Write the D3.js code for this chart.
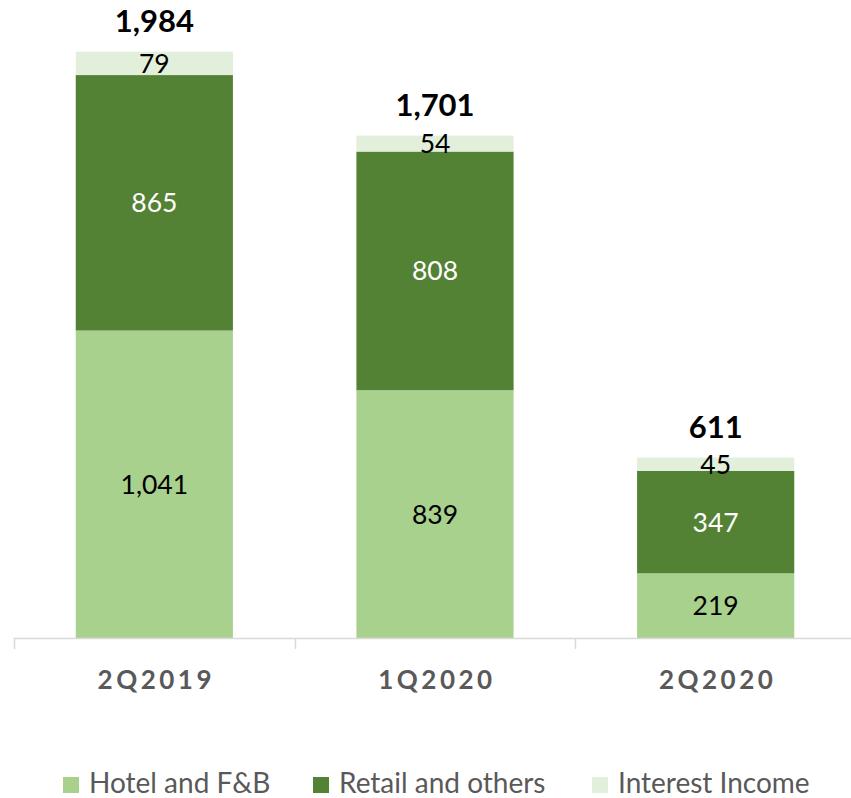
<!DOCTYPE html>
<html>
<head>
<meta charset="utf-8">
<script src="https://cdn.jsdelivr.net/npm/d3@7"></script>
<style>
  html, body { margin: 0; padding: 0; background: #fff; }
  svg { display: block; }
</style>
</head>
<body>
<svg id="chart" width="851" height="798"></svg>
<script>
// Revenue by segment, per quarter
const periods = ["2Q2019", "1Q2020", "2Q2020"];
const hotelFB = [1041, 839, 219];
const retailOthers = [865, 808, 347];
const interestIncome = [79, 54, 45];
const totals = [1984, 1701, 611];

const seriesNames = ["Hotel and F&B", "Retail and others", "Interest Income"];
const seriesKeys = ["hotel", "retail", "interest"];
const seriesColors = ["#A9D18E", "#548235", "#E2EFDA"];
const labelColors = ["#000000", "#FFFFFF", "#000000"];

const rows = periods.map((p, i) => ({
  period: p, hotel: hotelFB[i], retail: retailOthers[i], interest: interestIncome[i], total: totals[i]
}));

const svg = d3.select("#chart");
const font = "Lato, 'Open Sans', sans-serif";

const x = d3.scaleBand()
  .domain(periods)
  .range([14, 856])
  .paddingInner(0.44)
  .paddingOuter(0.22);

const y = d3.scaleLinear()
  .domain([0, 2000])
  .range([638, 47.3]);

const stack = d3.stack().keys(seriesKeys);
const layers = stack(rows);

const fmt = d3.format(",");

// Stacked bars
const g = svg.append("g");
layers.forEach((layer, li) => {
  g.selectAll(null)
    .data(layer)
    .join("rect")
    .attr("x", d => x(d.data.period))
    .attr("width", x.bandwidth())
    .attr("y", d => y(d[1]))
    .attr("height", d => y(d[0]) - y(d[1]))
    .attr("fill", seriesColors[li]);
});

// Segment value labels
layers.forEach((layer, li) => {
  g.selectAll(null)
    .data(layer)
    .join("text")
    .attr("x", d => x(d.data.period) + x.bandwidth() / 2)
    .attr("y", d => (y(d[0]) + y(d[1])) / 2)
    .attr("dy", "0.36em")
    .attr("text-anchor", "middle")
    .attr("font-family", font)
    .attr("font-size", 26.5)
    .attr("fill", labelColors[li])
    .text(d => fmt(d[1] - d[0]));
});

// Totals above the bars
g.selectAll(null)
  .data(rows)
  .join("text")
  .attr("x", d => x(d.period) + x.bandwidth() / 2)
  .attr("y", d => y(d.total) - 20)
  .attr("text-anchor", "middle")
  .attr("font-family", font)
  .attr("font-weight", "bold")
  .attr("font-size", 31)
  .attr("fill", "#000")
  .text(d => fmt(d.total));

// Category axis with ticks between the bands
const axisG = svg.append("g");
axisG.append("line")
  .attr("x1", 14).attr("x2", 856)
  .attr("y1", 638.5).attr("y2", 638.5)
  .attr("stroke", "#D9D9D9").attr("stroke-width", 1.5);
const step = x.step();
const edges = d3.range(periods.length + 1).map(i => 14 + i * step);
axisG.selectAll(null)
  .data(edges)
  .join("line")
  .attr("x1", d => Math.round(d) + 0.5).attr("x2", d => Math.round(d) + 0.5)
  .attr("y1", 638).attr("y2", 649)
  .attr("stroke", "#D9D9D9").attr("stroke-width", 1.5);

axisG.selectAll(null)
  .data(periods)
  .join("text")
  .attr("x", d => x(d) + x.bandwidth() / 2 + 2)
  .attr("y", 689)
  .attr("text-anchor", "middle")
  .attr("font-family", font)
  .attr("font-weight", "bold")
  .attr("font-size", 26)
  .attr("letter-spacing", "3.5px")
  .attr("fill", "#595959")
  .text(d => d);

// Legend
const legendX = [63, 313, 592];
const legend = svg.append("g");
seriesNames.forEach((name, i) => {
  legend.append("rect")
    .attr("x", legendX[i]).attr("y", 777)
    .attr("width", 16).attr("height", 16)
    .attr("fill", seriesColors[i]);
  legend.append("text")
    .attr("x", legendX[i] + 26).attr("y", 793)
    .attr("font-family", font)
    .attr("font-size", 28)
    .attr("fill", "#595959")
    .text(name);
});
</script>
</body>
</html>
